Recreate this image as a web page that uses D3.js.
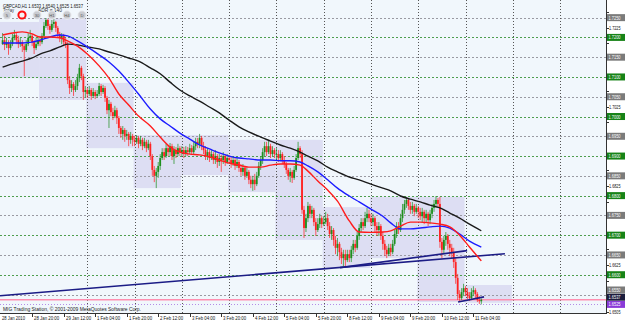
<!DOCTYPE html>
<html><head><meta charset="utf-8">
<script src="https://cdn.jsdelivr.net/npm/d3@7"></script>
<style>html,body{margin:0;padding:0;background:#fff;}svg{display:block;font-family:"Liberation Sans",Arial,sans-serif;}</style>
</head><body><svg id="c" width="625" height="323"></svg>
<script>
// ---------------- DATA ----------------
const symbolTitle = "GBPCAD,H1 1.6533 1.6540 1.6525 1.6537";
const firstBar = -19; // bar index of first candle (0 = 29 Jan 00:00)
const open = [1.7183,1.7193,1.7181,1.7188,1.7173,1.7183,1.7199,1.7206,1.7193,1.7183,1.7188,1.7178,1.7168,1.7183,1.7199,1.7204,1.7188,1.7173,1.7183,
1.7193,1.7188,1.7204,1.7229,1.7244,1.7229,1.7219,1.7234,1.7239,1.7224,1.7209,1.7199,1.7204,1.7188,1.7183,1.7092,1.7072,1.7082,1.7067,1.7077,1.7097,1.7123,1.7102,1.7062,
1.7067,1.7057,1.7067,1.7052,1.7062,1.7052,1.7057,1.7077,1.7062,1.7072,1.7047,1.7016,1.7032,1.7011,1.7001,1.7016,1.6996,1.6971,1.6956,1.6966,1.6951,1.6956,1.6941,1.6951,
1.6941,1.6936,1.6946,1.6931,1.6941,1.6925,1.6936,1.6920,1.6931,1.6900,1.6865,1.6850,1.6860,1.6875,1.6895,1.6910,1.6900,1.6920,1.6910,1.6925,1.6900,1.6915,1.6905,1.6920,
1.6910,1.6915,1.6905,1.6915,1.6910,1.6920,1.6910,1.6925,1.6936,1.6931,1.6946,1.6925,1.6915,1.6900,1.6910,1.6895,1.6905,1.6890,1.6900,1.6885,1.6895,1.6890,1.6900,1.6885,
1.6895,1.6890,1.6880,1.6890,1.6875,1.6885,1.6870,1.6860,1.6870,1.6850,1.6860,1.6840,1.6829,1.6840,1.6829,1.6850,1.6875,1.6890,1.6910,1.6925,1.6910,1.6925,1.6905,1.6915,
1.6905,1.6905,1.6895,1.6905,1.6890,1.6880,1.6865,1.6850,1.6860,1.6845,1.6865,1.6895,1.6920,1.6905,1.6764,1.6718,1.6743,1.6774,1.6754,1.6764,1.6733,1.6713,1.6728,1.6743,
1.6728,1.6733,1.6743,1.6723,1.6703,1.6713,1.6688,1.6668,1.6678,1.6657,1.6642,1.6652,1.6637,1.6652,1.6642,1.6663,1.6678,1.6668,1.6698,1.6718,1.6733,1.6723,1.6743,1.6754,
1.6743,1.6733,1.6743,1.6723,1.6713,1.6723,1.6698,1.6678,1.6663,1.6652,1.6668,1.6657,1.6678,1.6703,1.6723,1.6713,1.6743,1.6764,1.6779,1.6789,1.6774,1.6764,1.6774,1.6759,
1.6769,1.6759,1.6748,1.6759,1.6743,1.6754,1.6738,1.6754,1.6769,1.6779,1.6789,1.6779,1.6683,1.6663,1.6688,1.6698,1.6678,1.6668,1.6657,1.6632,1.6592,1.6551,1.6541,1.6556,
1.6566,1.6556,1.6546,1.6541,1.6556,1.6561,1.6551,1.6536,1.6533];
const close = [1.7193,1.7181,1.7188,1.7173,1.7183,1.7199,1.7206,1.7193,1.7183,1.7188,1.7178,1.7168,1.7183,1.7199,1.7204,1.7188,1.7173,1.7183,1.7193,
1.7188,1.7204,1.7229,1.7244,1.7229,1.7219,1.7234,1.7239,1.7224,1.7209,1.7199,1.7204,1.7188,1.7183,1.7092,1.7072,1.7082,1.7067,1.7077,1.7097,1.7123,1.7102,1.7062,1.7067,
1.7057,1.7067,1.7052,1.7062,1.7052,1.7057,1.7077,1.7062,1.7072,1.7047,1.7016,1.7032,1.7011,1.7001,1.7016,1.6996,1.6971,1.6956,1.6966,1.6951,1.6956,1.6941,1.6951,1.6941,
1.6936,1.6946,1.6931,1.6941,1.6925,1.6936,1.6920,1.6931,1.6900,1.6865,1.6850,1.6860,1.6875,1.6895,1.6910,1.6900,1.6920,1.6910,1.6925,1.6900,1.6915,1.6905,1.6920,1.6910,
1.6915,1.6905,1.6915,1.6910,1.6920,1.6910,1.6925,1.6936,1.6931,1.6946,1.6925,1.6915,1.6900,1.6910,1.6895,1.6905,1.6890,1.6900,1.6885,1.6895,1.6890,1.6900,1.6885,1.6895,
1.6890,1.6880,1.6890,1.6875,1.6885,1.6870,1.6860,1.6870,1.6850,1.6860,1.6840,1.6829,1.6840,1.6829,1.6850,1.6875,1.6890,1.6910,1.6925,1.6910,1.6925,1.6905,1.6915,1.6905,
1.6905,1.6895,1.6905,1.6890,1.6880,1.6865,1.6850,1.6860,1.6845,1.6865,1.6895,1.6920,1.6905,1.6764,1.6718,1.6743,1.6774,1.6754,1.6764,1.6733,1.6713,1.6728,1.6743,1.6728,
1.6733,1.6743,1.6723,1.6703,1.6713,1.6688,1.6668,1.6678,1.6657,1.6642,1.6652,1.6637,1.6652,1.6642,1.6663,1.6678,1.6668,1.6698,1.6718,1.6733,1.6723,1.6743,1.6754,1.6743,
1.6733,1.6743,1.6723,1.6713,1.6723,1.6698,1.6678,1.6663,1.6652,1.6668,1.6657,1.6678,1.6703,1.6723,1.6713,1.6743,1.6764,1.6779,1.6789,1.6774,1.6764,1.6774,1.6759,1.6769,
1.6759,1.6748,1.6759,1.6743,1.6754,1.6738,1.6754,1.6769,1.6779,1.6789,1.6779,1.6683,1.6663,1.6688,1.6698,1.6678,1.6668,1.6657,1.6632,1.6592,1.6551,1.6541,1.6556,1.6566,
1.6556,1.6546,1.6541,1.6556,1.6561,1.6551,1.6536,1.6533,1.6537];
const high = [1.7211,1.7204,1.7199,1.7193,1.7193,1.7209,1.7219,1.7211,1.7204,1.7199,1.7193,1.7183,1.7193,1.7211,1.7219,1.7209,1.7193,1.7199,1.7204,
1.7204,1.7211,1.7239,1.7249,1.7247,1.7234,1.7244,1.7247,1.7242,1.7229,1.7214,1.7211,1.7209,1.7199,1.7188,1.7102,1.7092,1.7087,1.7092,1.7108,1.7133,1.7128,1.7108,1.7077,
1.7072,1.7077,1.7072,1.7072,1.7067,1.7067,1.7085,1.7082,1.7080,1.7077,1.7052,1.7042,1.7037,1.7022,1.7027,1.7022,1.7001,1.6976,1.6976,1.6971,1.6966,1.6961,1.6961,1.6956,
1.6951,1.6953,1.6951,1.6951,1.6946,1.6946,1.6941,1.6941,1.6936,1.6905,1.6875,1.6870,1.6885,1.6905,1.6920,1.6920,1.6931,1.6928,1.6933,1.6931,1.6925,1.6923,1.6931,1.6925,
1.6925,1.6923,1.6925,1.6923,1.6931,1.6928,1.6936,1.6946,1.6946,1.6956,1.6951,1.6936,1.6925,1.6920,1.6915,1.6915,1.6910,1.6915,1.6905,1.6905,1.6903,1.6910,1.6905,1.6905,
1.6903,1.6900,1.6900,1.6895,1.6895,1.6890,1.6880,1.6880,1.6875,1.6870,1.6865,1.6850,1.6850,1.6855,1.6860,1.6885,1.6900,1.6920,1.6936,1.6936,1.6938,1.6931,1.6925,1.6920,
1.6920,1.6915,1.6915,1.6910,1.6900,1.6885,1.6870,1.6870,1.6865,1.6875,1.6905,1.6936,1.6925,1.6915,1.6774,1.6754,1.6784,1.6779,1.6774,1.6769,1.6743,1.6743,1.6754,1.6748,
1.6748,1.6759,1.6754,1.6733,1.6723,1.6718,1.6698,1.6693,1.6683,1.6668,1.6663,1.6663,1.6663,1.6663,1.6673,1.6688,1.6688,1.6708,1.6728,1.6743,1.6743,1.6759,1.6769,1.6764,
1.6754,1.6754,1.6748,1.6733,1.6733,1.6728,1.6708,1.6688,1.6673,1.6678,1.6678,1.6688,1.6713,1.6733,1.6733,1.6754,1.6779,1.6789,1.6797,1.6794,1.6784,1.6784,1.6779,1.6779,
1.6774,1.6769,1.6769,1.6764,1.6764,1.6759,1.6764,1.6779,1.6789,1.6799,1.6794,1.6797,1.6693,1.6698,1.6708,1.6703,1.6688,1.6678,1.6668,1.6642,1.6602,1.6561,1.6566,1.6577,
1.6571,1.6566,1.6556,1.6566,1.6571,1.6566,1.6556,1.6546,1.6540];
const low = [1.7181,1.7168,1.7173,1.7156,1.7168,1.7178,1.7193,1.7183,1.7173,1.7176,1.7163,1.7102,1.7163,1.7178,1.7191,1.7178,1.7158,1.7168,1.7178,
1.7178,1.7183,1.7199,1.7224,1.7219,1.7209,1.7214,1.7224,1.7214,1.7199,1.7188,1.7183,1.7178,1.7173,1.7082,1.7057,1.7062,1.7052,1.7062,1.7067,1.7087,1.7092,1.7042,1.7047,
1.7047,1.7052,1.7042,1.7047,1.7044,1.7047,1.7052,1.7052,1.7057,1.7037,1.7006,1.6971,1.7001,1.6991,1.6996,1.6981,1.6956,1.6946,1.6941,1.6936,1.6941,1.6925,1.6931,1.6925,
1.6925,1.6931,1.6920,1.6925,1.6915,1.6920,1.6910,1.6915,1.6890,1.6850,1.6834,1.6819,1.6845,1.6865,1.6890,1.6890,1.6895,1.6900,1.6900,1.6890,1.6880,1.6895,1.6900,1.6900,
1.6900,1.6895,1.6900,1.6900,1.6905,1.6903,1.6905,1.6915,1.6920,1.6920,1.6915,1.6905,1.6890,1.6890,1.6885,1.6890,1.6880,1.6880,1.6870,1.6875,1.6860,1.6880,1.6875,1.6880,
1.6880,1.6870,1.6875,1.6865,1.6870,1.6860,1.6850,1.6850,1.6840,1.6845,1.6829,1.6819,1.6812,1.6814,1.6824,1.6845,1.6865,1.6880,1.6900,1.6900,1.6905,1.6895,1.6900,1.6895,
1.6890,1.6885,1.6890,1.6880,1.6870,1.6855,1.6840,1.6834,1.6832,1.6840,1.6860,1.6890,1.6895,1.6754,1.6693,1.6708,1.6733,1.6743,1.6743,1.6723,1.6698,1.6708,1.6718,1.6718,
1.6723,1.6728,1.6713,1.6693,1.6688,1.6673,1.6652,1.6647,1.6637,1.6627,1.6622,1.6620,1.6632,1.6632,1.6632,1.6652,1.6657,1.6663,1.6688,1.6708,1.6713,1.6718,1.6733,1.6733,
1.6723,1.6723,1.6708,1.6698,1.6698,1.6688,1.6663,1.6647,1.6642,1.6647,1.6647,1.6652,1.6673,1.6693,1.6703,1.6708,1.6733,1.6754,1.6769,1.6764,1.6754,1.6754,1.6748,1.6754,
1.6743,1.6738,1.6733,1.6728,1.6733,1.6723,1.6728,1.6743,1.6759,1.6769,1.6769,1.6668,1.6642,1.6652,1.6673,1.6663,1.6647,1.6642,1.6617,1.6577,1.6536,1.6531,1.6536,1.6546,
1.6546,1.6539,1.6534,1.6536,1.6546,1.6541,1.6531,1.6526,1.6525];

// moving averages, read at these bar indices
const maBars = [-19,-14,-9,-4,0,5,10,14,19,24,30,35,40,45,50,56,61,66,71,76,81,86,91,96,101,106,112,117,122,127,132,136,141,146,151,157,162,168,174,178,183,188,193,198,203,208,213,218,224];
const maRed = [1.7206,1.7211,1.7214,1.7209,1.7201,1.7201,1.7199,1.7191,1.7178,1.7158,1.7128,1.7097,1.7057,1.7029,1.7001,1.6976,1.6948,1.6923,1.6910,1.6905,1.6903,1.6898,1.6890,1.6882,1.6877,1.6872,1.6872,1.6877,1.6880,1.6880,1.6877,1.6862,1.6837,1.6814,1.6786,1.6736,1.6708,1.6707,1.6708,1.6711,1.6723,1.6733,1.6733,1.6731,1.6728,1.6721,1.6700,1.6670,1.6635];
const maBlue = [1.7186,1.7186,1.7186,1.7188,1.7193,1.7201,1.7206,1.7204,1.7191,1.7176,1.7156,1.7138,1.7115,1.7087,1.7057,1.7019,1.6994,1.6976,1.6958,1.6943,1.6928,1.6918,1.6908,1.6900,1.6895,1.6893,1.6890,1.6890,1.6888,1.6888,1.6885,1.6875,1.6860,1.6840,1.6819,1.6799,1.6784,1.6766,1.6748,1.6731,1.6716,1.6716,1.6718,1.6721,1.6723,1.6718,1.6703,1.6685,1.6670];
const maBlack = [1.7125,1.7133,1.7140,1.7148,1.7158,1.7166,1.7176,1.7183,1.7181,1.7176,1.7171,1.7163,1.7156,1.7148,1.7140,1.7123,1.7108,1.7087,1.7067,1.7052,1.7039,1.7024,1.7009,1.6991,1.6974,1.6961,1.6948,1.6938,1.6928,1.6920,1.6910,1.6900,1.6888,1.6872,1.6860,1.6847,1.6840,1.6829,1.6819,1.6812,1.6799,1.6791,1.6784,1.6776,1.6769,1.6756,1.6743,1.6728,1.6711];

// daily range boxes
const dayStart = [-24,0,24,48,72,96,120,144,168,192,216];
const dayHigh = [1.7239,1.7249,1.7085,1.6953,1.6953,1.6941,1.6941,1.6771,1.6797,1.6797,1.6574];
const dayLow  = [1.7097,1.7042,1.6920,1.6819,1.6852,1.6809,1.6688,1.6617,1.6642,1.6531,1.6529];

// trend lines
const trendBar1 = [-20.3,152.3,212.2];
const trendP1   = [1.6547,1.6618,1.6531];
const trendBar2 = [236,216.8,225.4];
const trendP2   = [1.6653,1.6661,1.6544];

// levels
const grayLevels  = [1.7250,1.7150,1.7050,1.6950,1.6850,1.6750,1.6650,1.6550];
const greenLevels = [1.7200,1.7100,1.7000,1.6900,1.6800,1.6700,1.6600];
const bidPrice = 1.6537;
const lowLevel = 1.6525;
const priceTicks = [1.7265,1.7225,1.7185,1.7145,1.7105,1.7065,1.7025,1.6985,1.6945,1.6905,1.6865,1.6825,1.6785,1.6745,1.6705,1.6665,1.6625,1.6585,1.6545,1.6505];
const dayGridBars = [24,48,72,96,120,144,168,192,216,240,264];
const timeTickBars = [-4,12,28,44,60,76,92,108,124,140,156,172,188,204,220];
const timeLabels = ["28 Jan 20:00","29 Jan 12:00","1 Feb 04:00","1 Feb 20:00","2 Feb 12:00","3 Feb 04:00","3 Feb 20:00","4 Feb 12:00","5 Feb 04:00","5 Feb 20:00","8 Feb 12:00","9 Feb 04:00","9 Feb 20:00","10 Feb 12:00","11 Feb 04:00"];
const firstLabel = "28 Jan 2010";
const buttons = ["5","15","30","H1","H4","D"];

// ---------------- DRAW ----------------
const W = 625, H = 323, PR = 606, PB = 313;
const svg = d3.select("#c");
svg.append("rect").attr("width", W).attr("height", H).attr("fill", "#ffffff");
svg.append("defs").append("clipPath").attr("id", "clip").append("rect").attr("width", PR).attr("height", PB);
const x = d3.scaleLinear().domain([-19, 224]).range([2.6, 481.3]);
const y = d3.scaleLinear().domain([1.6505, 1.7265]).range([312.3, 11.7]);
const g = svg.append("g").attr("clip-path", "url(#clip)");
g.append("rect").attr("width", PR).attr("height", PB).attr("fill", "#f1f7fc");

// day boxes
g.selectAll("rect.day").data(dayStart).join("rect").attr("class", "day")
  .attr("x", d => x(d) - 1).attr("width", d => x(d + 24) - x(d))
  .attr("y", (d, k) => y(dayHigh[k])).attr("height", (d, k) => y(dayLow[k]) - y(dayHigh[k]))
  .attr("fill", "#d9d9f1").attr("fill-opacity", 0.85);

// horizontal level lines
const hline = (v, col, dash) => g.append("line").attr("x1", 0).attr("x2", PR)
  .attr("y1", Math.round(y(v)) + 0.5).attr("y2", Math.round(y(v)) + 0.5)
  .attr("stroke", col).attr("stroke-width", 1).attr("stroke-dasharray", dash);
grayLevels.forEach(v => hline(v, "#9a9aa2", "2,2"));
greenLevels.forEach(v => hline(v, "#4e9e4e", "2,2"));
// vertical day grid
dayGridBars.forEach(b => g.append("line").attr("x1", Math.round(x(b)) + 0.5).attr("x2", Math.round(x(b)) + 0.5)
  .attr("y1", 0).attr("y2", PB).attr("stroke", "#555").attr("stroke-dasharray", "1,2"));
hline(lowLevel, "#b48ce6", "1,2");
g.append("line").attr("x1", 0).attr("x2", PR).attr("y1", y(bidPrice)).attr("y2", y(bidPrice))
  .attr("stroke", "#ff8fb0").attr("stroke-width", 1.5);

// candles
const bars = close.map((c, k) => ({i: firstBar + k, o: open[k], h: high[k], l: low[k], c: c}));
const cg = g.append("g");
bars.forEach(b => {
  const up = b.c >= b.o;
  const col = up ? "#1e8f1e" : "#ff2222";
  const cx = x(b.i);
  cg.append("line").attr("x1", cx).attr("x2", cx).attr("y1", y(b.h)).attr("y2", y(b.l))
    .attr("stroke", col).attr("stroke-width", 0.9).attr("stroke-opacity", 0.8);
  const y0 = Math.min(y(b.o), y(b.c)), y1 = Math.max(y(b.o), y(b.c));
  cg.append("rect").attr("x", cx - 0.9).attr("width", 1.8).attr("y", y0).attr("height", Math.max(0.8, y1 - y0))
    .attr("fill", col);
});

// trend lines
trendBar1.forEach((b, k) => g.append("line").attr("x1", x(b)).attr("y1", y(trendP1[k]))
  .attr("x2", x(trendBar2[k])).attr("y2", y(trendP2[k])).attr("stroke", "#1c1c86").attr("stroke-width", 1.6));

// moving averages
const line = d3.line().x((d, k) => x(maBars[k])).y(d => y(d)).curve(d3.curveMonotoneX);
[[maBlack, "#1a1a1a"], [maBlue, "#1c1cff"], [maRed, "#ff1c1c"]].forEach(([arr, col]) =>
  g.append("path").attr("d", line(arr)).attr("fill", "none").attr("stroke", col).attr("stroke-width", 1.4));

// header texts
const txt = (t, tx, ty, fs, len, col, parent) => (parent || svg).append("text").attr("x", tx).attr("y", ty)
  .attr("font-size", fs).attr("fill", col || "#111").attr("textLength", len).attr("lengthAdjust", "spacingAndGlyphs").text(t);
txt(symbolTitle, 3, 7.5, 5.6, 80);
txt("Today", 3, 12, 5, 11, "#333");
txt("ADR = 140", 38, 12, 5, 24, "#333");
buttons.forEach((b, k) => {
  const bx = 7 + k * 15;
  if (k === 1) {
    svg.append("circle").attr("cx", bx).attr("cy", 15).attr("r", 3.6).attr("fill", "#f4f4f4").attr("stroke", "#ff1010").attr("stroke-width", 2);
  } else {
    svg.append("circle").attr("cx", bx).attr("cy", 15).attr("r", 4.2).attr("fill", "#c9cbd0").attr("stroke", "#eef0f4").attr("stroke-width", 1);
    svg.append("text").attr("x", bx).attr("y", 16.7).attr("text-anchor", "middle").attr("font-size", 4.2).attr("fill", "#555").text(b);
  }
});
txt("MIG Trading Station, \u00a9 2001-2009 MetaQuotes Software Corp.", 3, 310.5, 5.6, 138, "#222");

// axes frame
svg.append("line").attr("x1", PR + 0.5).attr("x2", PR + 0.5).attr("y1", 0).attr("y2", PB + 1).attr("stroke", "#333");
svg.append("line").attr("x1", 0).attr("x2", PR + 1).attr("y1", PB + 0.5).attr("y2", PB + 0.5).attr("stroke", "#333");

// level boxes on the price axis (positions resolved so boxes don't collide)
const boxes = grayLevels.map(v => ({v, fill: "#7b7b7b"}))
  .concat(greenLevels.map(v => ({v, fill: "#178317"})))
  .concat([{v: bidPrice, fill: "#1c1c3c"}, {v: lowLevel, fill: "#8a3ad8"}])
  .map(b => Object.assign(b, {py: y(b.v)}))
  .sort((a, b) => b.py - a.py);
for (let k = 1; k < boxes.length; k++) {
  if (boxes[k - 1].py - boxes[k].py < 7.2) boxes[k].py = boxes[k - 1].py - 7.2;
}

// price axis
priceTicks.forEach(v => {
  const py = y(v);
  svg.append("line").attr("x1", PR).attr("x2", PR + 3).attr("y1", Math.round(py) + 0.5).attr("y2", Math.round(py) + 0.5).attr("stroke", "#333");
  if (boxes.some(b => Math.abs(b.py - py) < 6.5)) return; // hidden behind a level box
  txt(v.toFixed(4), 609, py + 2, 5.6, 11.5, "#111");
});
boxes.forEach(b => {
  svg.append("rect").attr("x", PR + 1).attr("y", b.py - 3.5).attr("width", W - PR - 1).attr("height", 7).attr("fill", b.fill);
  txt(b.v.toFixed(4), 608.5, b.py + 2, 5.4, 12, "#ffffff");
});

// time axis
txt(firstLabel, 2, 319.5, 5.6, 23, "#111");
timeTickBars.forEach((b, k) => {
  const tx = Math.round(x(b)) + 0.5;
  svg.append("line").attr("x1", tx).attr("x2", tx).attr("y1", PB).attr("y2", PB + 4).attr("stroke", "#333");
  txt(timeLabels[k], tx + 1.5, 319.5, 5.6, timeLabels[k].length * 2.1, "#111");
});
</script></body></html>
